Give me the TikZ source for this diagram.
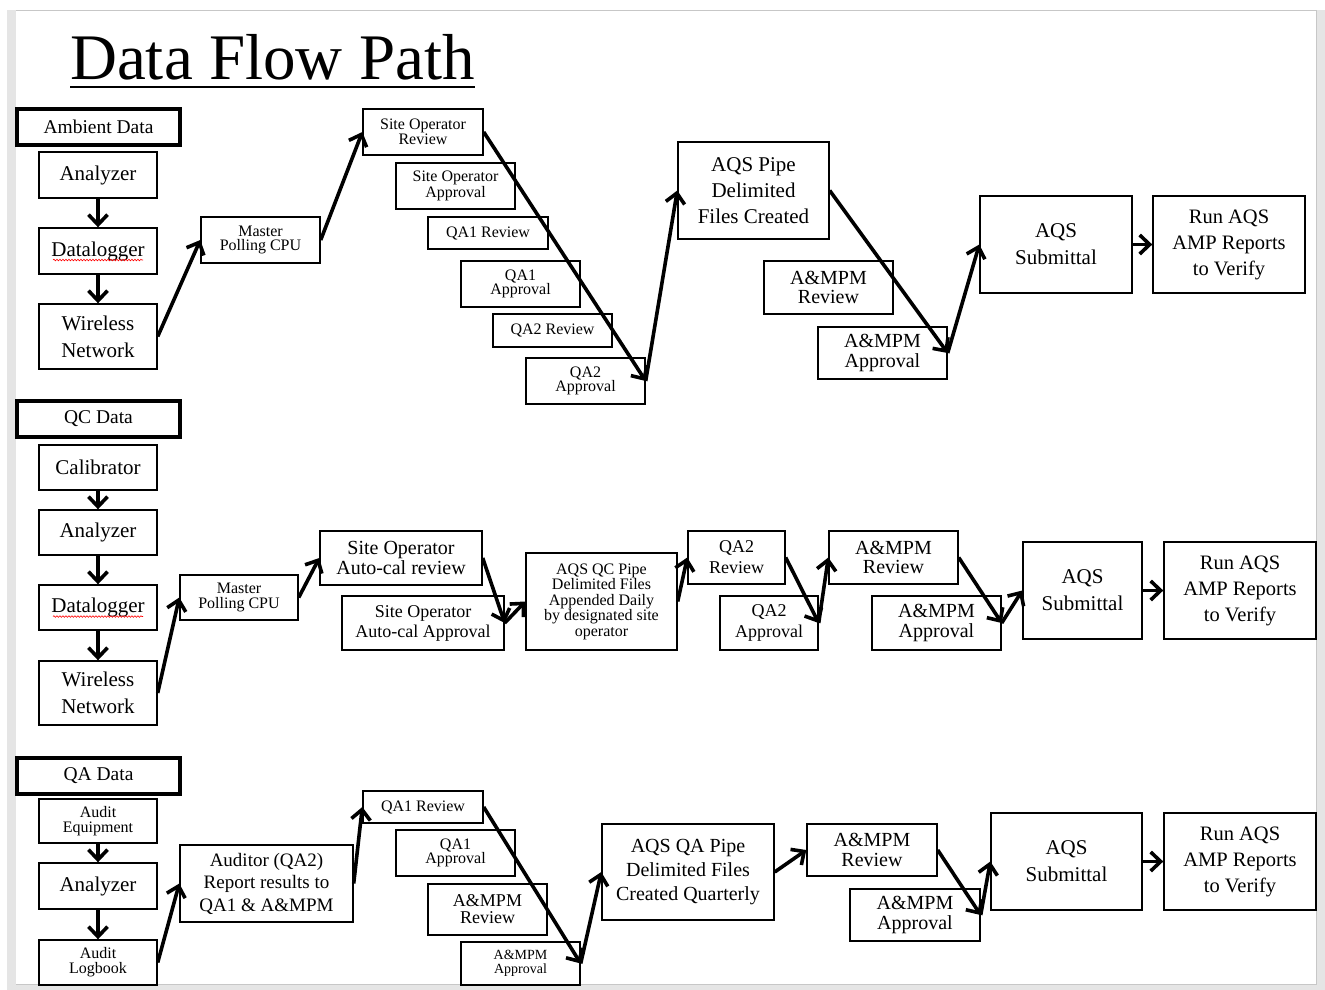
\documentclass[tikz,border=0pt]{standalone}
\usepackage{fontspec}
\setmainfont{Liberation Serif}
\usetikzlibrary{arrows.meta}
\usetikzlibrary{decorations.pathmorphing}

\newcommand{\fs}[2]{\fontsize{#1}{#2}\selectfont}

\begin{document}
\begin{tikzpicture}[x=1pt,y=-1pt,
    every node/.style={align=center,inner sep=0pt},
    box/.style={draw,line width=1.4pt},
    hdr/.style={draw,line width=3.4pt,minimum width=163,minimum height=36,font=\fs{19.5}{22}},
    tL/.style={font=\fs{21}{27}},
    tM/.style={font=\fs{20}{19.5}},
    tS/.style={font=\fs{16}{14.5}},
    flow/.style={line width=3.6pt,-{Straight Barb[length=10pt,width=19pt]}},
    spell/.style={red,line width=.6pt,decorate,
        decoration={snake,amplitude=.8pt,segment length=3pt}}]
    % page
    \fill[white] (0,0) rectangle (1325,990);
    \fill[black!10] (7,10) rectangle (1325,990);
    \fill[white] (16,11) rectangle (1316,984);
    \draw[black!22,line width=1pt] (16,10.5) -- (1316.5,10.5) -- (1316.5,984.5) -- (16,984.5);
    \useasboundingbox (0,0) rectangle (1325,990);

    \node[anchor=base west,font=\fs{65}{70}] (title) at (70,80) {Data Flow Path};
    \draw[line width=2.5pt] ([yshift=-7pt]title.base west) -- ([yshift=-7pt]title.base east);

    % ambient data
    \node[hdr] (amb) at (98.5,127) {Ambient Data};
    \node[box,tL,minimum width=118,minimum height=46] (an1) at (98,175) {Analyzer};
    \node[box,tL,minimum width=118,minimum height=46] (dl1) at (98,251) {Datalogger};
    \node[box,tL,minimum width=118,minimum height=65] (wn1) at (98,336.5) {Wireless\\Network};
    \node[box,tS,minimum width=119,minimum height=46] (mp1) at (260.5,240) {Master\\Polling CPU};
    \node[box,tS,minimum width=120,minimum height=46] (sor1) at (423,132) {Site Operator\\Review};
    \node[box,tS,minimum width=119,minimum height=46] (soa1) at (455.5,186) {Site Operator\\Approval};
    \node[box,tS,minimum width=120,minimum height=32] (qar1) at (488,233) {QA1 Review};
    \node[box,tS,minimum width=119,minimum height=46] (qaa1) at (520.5,284) {QA1\\Approval};
    \node[box,tS,minimum width=119,minimum height=33] (qbr1) at (552.5,330.5) {QA2 Review};
    \node[box,tS,minimum width=119,minimum height=46] (qba1) at (585.5,381) {QA2\\Approval};
    \node[box,font=\fs{21}{26},minimum width=151,minimum height=97] (pipe1) at (753.5,190.5) {AQS Pipe\\Delimited\\Files Created};
    \node[box,tM,minimum width=129,minimum height=53] (amr1) at (828.5,287.5) {A\&MPM\\Review};
    \node[box,tM,minimum width=129,minimum height=52] (ama1) at (882.5,353) {A\&MPM\\Approval};
    \node[box,tL,minimum width=152,minimum height=97] (sub1) at (1056,244.5) {AQS\\Submittal};
    \node[box,font=\fs{20.5}{26},minimum width=152,minimum height=97] (run1) at (1229,244.5) {Run AQS\\AMP Reports\\to Verify};

    \draw[spell] ([shift={(-45,4)}]dl1.base) -- ([shift={(45,4)}]dl1.base);
    \draw[flow] (an1) -- (dl1);
    \draw[flow] (dl1) -- (wn1);
    \draw[flow] (wn1.east) -- (mp1.west);
    \draw[flow] (mp1.east) -- (sor1.west);
    \draw[flow] (sor1.east) -- (qba1.east);
    \draw[flow] (qba1.east) -- (pipe1.west);
    \draw[flow] (pipe1.east) -- (ama1.east);
    \draw[flow] (ama1.east) -- (sub1.west);
    \draw[flow] (sub1) -- (run1);

    % qc data
    \node[hdr] (qc) at (98.5,419) {QC Data};
    \node[box,tL,minimum width=118,minimum height=45] (cal2) at (98,467.5) {Calibrator};
    \node[box,tL,minimum width=118,minimum height=45] (an2) at (98,532.5) {Analyzer};
    \node[box,tL,minimum width=118,minimum height=45] (dl2) at (98,607.5) {Datalogger};
    \node[box,tL,minimum width=118,minimum height=64] (wn2) at (98,693) {Wireless\\Network};
    \node[box,tS,minimum width=118,minimum height=45] (mp2) at (239,597.5) {Master\\Polling CPU};
    \node[box,tM,minimum width=162,minimum height=54] (acr2) at (401,558) {Site Operator\\Auto-cal review};
    \node[box,font=\fs{18}{20},minimum width=162,minimum height=54] (aca2) at (423,623) {Site Operator\\Auto-cal Approval};
    \node[box,font=\fs{16}{15.5},minimum width=151,minimum height=97] (pipe2) at (601.5,601.5) {AQS QC Pipe\\Delimited Files\\Appended Daily\\by designated site\\operator};
    \node[box,font=\fs{18}{21},minimum width=97,minimum height=53] (qbr2) at (736.5,557.5) {QA2\\Review};
    \node[box,font=\fs{18}{21},minimum width=98,minimum height=54] (qba2) at (769,623) {QA2\\Approval};
    \node[box,tM,minimum width=129,minimum height=53] (amr2) at (893.5,557.5) {A\&MPM\\Review};
    \node[box,tM,minimum width=129,minimum height=54] (ama2) at (936.5,623) {A\&MPM\\Approval};
    \node[box,tL,minimum width=119,minimum height=97] (sub2) at (1082.5,590.5) {AQS\\Submittal};
    \node[box,font=\fs{20.5}{26},minimum width=152,minimum height=97] (run2) at (1240,590.5) {Run AQS\\AMP Reports\\to Verify};

    \draw[spell] ([shift={(-45,4)}]dl2.base) -- ([shift={(45,4)}]dl2.base);
    \draw[flow] (cal2) -- (an2);
    \draw[flow] (an2) -- (dl2);
    \draw[flow] (dl2) -- (wn2);
    \draw[flow] (wn2.east) -- (mp2.west);
    \draw[flow] (mp2.east) -- (acr2.west);
    \draw[flow] (acr2.east) -- (aca2.east);
    \draw[flow] (aca2.east) -- (pipe2.west);
    \draw[flow] (pipe2.east) -- (qbr2.west);
    \draw[flow] (qbr2.east) -- (qba2.east);
    \draw[flow] (qba2.east) -- (amr2.west);
    \draw[flow] (amr2.east) -- (ama2.east);
    \draw[flow] (ama2.east) -- (sub2.west);
    \draw[flow] (sub2) -- (run2);

    % qa data
    \node[hdr] (qa) at (98.5,776) {QA Data};
    \node[box,font=\fs{16}{15},minimum width=118,minimum height=44] (ae3) at (98,821) {Audit\\Equipment};
    \node[box,tL,minimum width=118,minimum height=46] (an3) at (98,886) {Analyzer};
    \node[box,font=\fs{16}{15},minimum width=118,minimum height=45] (lb3) at (98,962.5) {Audit\\Logbook};
    \node[box,font=\fs{19}{22.5},minimum width=173,minimum height=77] (aud3) at (266.5,883.5) {Auditor (QA2)\\Report results to\\QA1 \& A\&MPM};
    \node[box,tS,minimum width=120,minimum height=32] (qar3) at (423,807) {QA1 Review};
    \node[box,tS,minimum width=119,minimum height=46] (qaa3) at (455.5,853) {QA1\\Approval};
    \node[box,font=\fs{18}{17},minimum width=119,minimum height=51] (amrs3) at (487.5,909.5) {A\&MPM\\Review};
    \node[box,font=\fs{14}{14},minimum width=119,minimum height=43] (amas3) at (520.5,963.5) {A\&MPM\\Approval};
    \node[box,font=\fs{20}{24},minimum width=172,minimum height=96] (pipe3) at (688,872) {AQS QA Pipe\\Delimited Files\\Created Quarterly};
    \node[box,tM,minimum width=130,minimum height=52] (amr3) at (872,850) {A\&MPM\\Review};
    \node[box,tM,minimum width=130,minimum height=52] (ama3) at (915,915) {A\&MPM\\Approval};
    \node[box,tL,minimum width=151,minimum height=97] (sub3) at (1066.5,861.5) {AQS\\Submittal};
    \node[box,font=\fs{20.5}{26},minimum width=152,minimum height=97] (run3) at (1240,861.5) {Run AQS\\AMP Reports\\to Verify};

    \draw[flow] (ae3) -- (an3);
    \draw[flow] (an3) -- (lb3);
    \draw[flow] (lb3.east) -- (aud3.west);
    \draw[flow] (aud3.east) -- (qar3.west);
    \draw[flow] (qar3.east) -- (amas3.east);
    \draw[flow] (amas3.east) -- (pipe3.west);
    \draw[flow] (pipe3.east) -- (amr3.west);
    \draw[flow] (amr3.east) -- (ama3.east);
    \draw[flow] (ama3.east) -- (sub3.west);
    \draw[flow] (sub3) -- (run3);
\end{tikzpicture}
\end{document}
